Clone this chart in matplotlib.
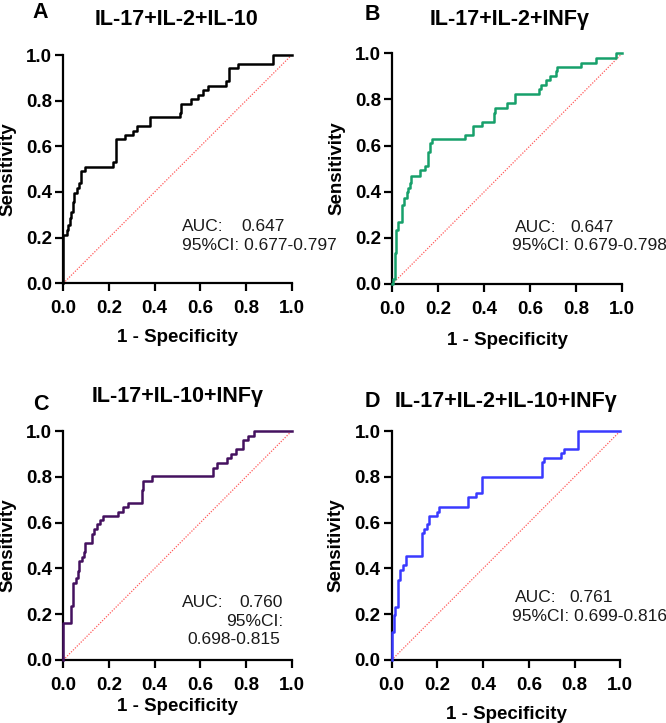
import matplotlib
matplotlib.use("Agg")
import matplotlib.pyplot as plt

plt.rcParams['font.family'] = ['Liberation Sans', 'DejaVu Sans']

# ---------------- data ----------------
titles = ["IL-17+IL-2+IL-10", "IL-17+IL-2+INFγ", "IL-17+IL-10+INFγ", "IL-17+IL-2+IL-10+INFγ"]
letters = ["A", "B", "C", "D"]
colors = ["#000000", "#17a06b", "#44115f", "#3a3aff"]

fpr_a = [0.0, 0.0, 0.015, 0.022, 0.029, 0.034, 0.041, 0.047, 0.058, 0.069, 0.076, 0.095, 0.219, 0.229,
         0.27, 0.307, 0.321, 0.38, 0.511, 0.515, 0.558, 0.588, 0.61, 0.635, 0.712, 0.727, 0.766, 0.917, 1.0]
tpr_a = [0.0, 0.212, 0.234, 0.255, 0.285, 0.314, 0.358, 0.394, 0.416, 0.438, 0.493, 0.511, 0.53, 0.631,
         0.65, 0.667, 0.689, 0.727, 0.747, 0.785, 0.806, 0.825, 0.847, 0.864, 0.886, 0.942, 0.961, 1.0, 1.0]

fpr_b = [0.0, 0.005, 0.01, 0.015, 0.025, 0.043, 0.052, 0.063, 0.068, 0.075, 0.083, 0.119, 0.14, 0.155,
         0.162, 0.174, 0.314, 0.351, 0.391, 0.44, 0.448, 0.5, 0.532, 0.638, 0.648, 0.67, 0.684, 0.71,
         0.716, 0.822, 0.887, 0.971, 1.0]
tpr_b = [0.0, 0.02, 0.133, 0.234, 0.27, 0.342, 0.371, 0.4, 0.415, 0.436, 0.47, 0.494, 0.51, 0.574,
         0.61, 0.627, 0.646, 0.685, 0.704, 0.74, 0.761, 0.783, 0.822, 0.844, 0.863, 0.884, 0.902, 0.925,
         0.942, 0.96, 0.978, 1.0, 1.0]

fpr_c = [0.0, 0.0, 0.032, 0.041, 0.055, 0.063, 0.069, 0.083, 0.091, 0.096, 0.124, 0.136, 0.146, 0.161,
         0.172, 0.241, 0.26, 0.282, 0.343, 0.347, 0.39, 0.657, 0.672, 0.715, 0.733, 0.756, 0.785, 0.81,
         0.835, 1.0]
tpr_c = [0.0, 0.16, 0.237, 0.335, 0.357, 0.39, 0.432, 0.451, 0.473, 0.512, 0.55, 0.571, 0.592, 0.611,
         0.63, 0.648, 0.67, 0.687, 0.742, 0.783, 0.803, 0.837, 0.862, 0.881, 0.9, 0.92, 0.96, 0.978,
         1.0, 1.0]

fpr_d = [0.0, 0.0, 0.011, 0.016, 0.029, 0.036, 0.051, 0.061, 0.131, 0.143, 0.153, 0.163, 0.196, 0.206,
         0.334, 0.367, 0.395, 0.659, 0.667, 0.742, 0.754, 0.815, 1.0]
tpr_d = [0.0, 0.124, 0.197, 0.233, 0.349, 0.393, 0.415, 0.454, 0.553, 0.571, 0.594, 0.629, 0.648, 0.667,
         0.713, 0.731, 0.8, 0.863, 0.881, 0.902, 0.92, 1.0, 1.0]

fprs = [fpr_a, fpr_b, fpr_c, fpr_d]
tprs = [tpr_a, tpr_b, tpr_c, tpr_d]

auc_vals = ["0.647", "0.647", "0.760", "0.761"]
ci_vals = ["0.677-0.797", "0.679-0.798", "0.698-0.815", "0.699-0.816"]

ticks = [0.0, 0.2, 0.4, 0.6, 0.8, 1.0]
tick_labels = ["0.0", "0.2", "0.4", "0.6", "0.8", "1.0"]

# ---------------- layout ----------------
W, H = 666, 723
fig = plt.figure(figsize=(W / 100, H / 100), dpi=100)

# axes boxes in pixels: left, top, right, bottom
boxes = [(63.3, 55.0, 291.7, 283.3),
         (392.3, 53.3, 622.3, 284.0),
         (63.3, 431.0, 291.7, 660.0),
         (391.7, 431.0, 620.3, 660.0)]

title_pos = [(177.0, 25.0), (509.8, 25.0), (177.5, 401.7), (506.0, 406.7)]
letter_pos = [(32.0, 18.3), (364.7, 20.0), (33.3, 410.0), (364.7, 406.7)]
xlabel_pads = [9, 10, 3, 9]

tfs = 12.5
for i in range(4):
    l, t, r, b = boxes[i]
    ax = fig.add_axes([l / W, 1 - b / H, (r - l) / W, (b - t) / H])
    ax.plot([0, 1], [0, 1], linestyle=(0, (1, 1.2)), color="#ff5a5a", linewidth=0.9, zorder=2)
    ax.step(fprs[i], tprs[i], where="post", color=colors[i], linewidth=1.8, zorder=3, clip_on=False)
    ax.set_xlim(0, 1)
    ax.set_ylim(0, 1)
    for s in ["top", "right"]:
        ax.spines[s].set_visible(False)
    for s in ["left", "bottom"]:
        ax.spines[s].set_linewidth(1.6)
    ax.set_xticks(ticks)
    ax.set_yticks(ticks)
    ax.set_xticklabels(tick_labels, fontsize=13.5, fontweight="bold")
    ax.set_yticklabels(tick_labels, fontsize=13.5, fontweight="bold")
    ax.tick_params(axis="both", direction="out", length=6, width=1.6)
    ax.tick_params(axis="x", pad=6)
    ax.tick_params(axis="y", pad=2)
    ax.set_xlabel("1 - Specificity", fontsize=13.5, fontweight="bold", labelpad=xlabel_pads[i])
    ax.set_ylabel("Sensitivity", fontsize=13.5, fontweight="bold", labelpad=7)

    tx, ty = title_pos[i]
    fig.text(tx / W, 1 - ty / H, titles[i], ha="center", va="baseline", fontsize=15.5, fontweight="bold")
    lx, ly = letter_pos[i]
    fig.text(lx / W, 1 - ly / H, letters[i], ha="left", va="baseline", fontsize=15.5, fontweight="bold")

    tc = "#1a1a1a"
    if i == 0:
        ax.text(0.518, 0.229, "AUC:", fontsize=tfs, color=tc, va="baseline", ha="left")
        ax.text(0.781, 0.229, auc_vals[i], fontsize=tfs, color=tc, va="baseline", ha="left")
        ax.text(0.518, 0.146, "95%CI: " + ci_vals[i], fontsize=tfs, color=tc, va="baseline", ha="left", clip_on=False)
    elif i == 1:
        ax.text(0.533, 0.227, "AUC:", fontsize=tfs, color=tc, va="baseline", ha="left")
        ax.text(0.773, 0.227, auc_vals[i], fontsize=tfs, color=tc, va="baseline", ha="left")
        ax.text(0.519, 0.147, "95%CI: " + ci_vals[i], fontsize=tfs, color=tc, va="baseline", ha="left", clip_on=False)
    elif i == 2:
        ax.text(0.518, 0.233, "AUC:", fontsize=tfs, color=tc, va="baseline", ha="left")
        ax.text(0.963, 0.233, auc_vals[i], fontsize=tfs, color=tc, va="baseline", ha="right")
        ax.text(0.963, 0.148, "95%CI:", fontsize=tfs, color=tc, va="baseline", ha="right")
        ax.text(0.748, 0.069, ci_vals[i], fontsize=tfs, color=tc, va="baseline", ha="center")
    else:
        ax.text(0.539, 0.255, "AUC:", fontsize=tfs, color=tc, va="baseline", ha="left")
        ax.text(0.777, 0.255, auc_vals[i], fontsize=tfs, color=tc, va="baseline", ha="left")
        ax.text(0.525, 0.172, "95%CI: " + ci_vals[i], fontsize=tfs, color=tc, va="baseline", ha="left", clip_on=False)

fig.savefig("out.png", dpi=100)
